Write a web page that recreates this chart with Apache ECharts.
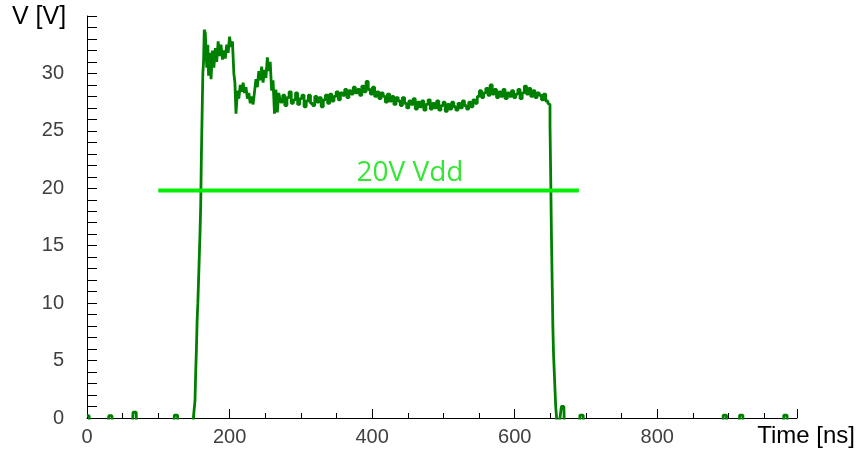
<!DOCTYPE html>
<html>
<head>
<meta charset="utf-8">
<script src="https://cdn.jsdelivr.net/npm/echarts@6/dist/echarts.min.js"></script>
<style>
  html, body { margin: 0; padding: 0; background: #fff; }
  #chart { width: 859px; height: 452px; }
</style>
</head>
<body>
<div id="chart"></div>
<script>
// measured pulse, [time ns, voltage V], read off the picture
// (baseline sits just under 0 so only the small noise blips show above the axis)
const baselineBefore = [
  [0, 0.2], [3, 0.2], [4, -0.5],
  [30, -0.5], [31, 0.2], [35, 0.2], [36, -0.5],
  [64, -0.5], [65, 0.5], [69, 0.5], [70, -0.5],
  [122, -0.5], [123, 0.25], [127, 0.25], [128, -0.5],
  [149, -0.5], [150, 0.2]
];
const risingEdge = [
  [151, 0.3], [152, 1.5], [153, 4], [154, 6], [155, 8.5], [156, 10], [157, 12],
  [158, 14], [159, 16], [160, 18.5], [161, 23], [162, 26.5], [163, 30], [164, 31]
];
const overshoot = [
  [165, 33.8], [167, 33.5], [169, 30.5], [170, 32.5], [171, 29.8], [173, 31.8],
  [175, 29.5], [177, 32], [179, 30.5], [181, 32.2], [183, 31], [185, 32.8],
  [187, 31.5], [189, 32.5], [191, 31.2], [193, 32], [195, 31.3], [197, 32.5],
  [199, 31.8], [201, 33.2], [203, 32.3], [205, 32.8], [207, 30], [208, 29.2],
  [210, 26.5], [212, 28.5], [214, 27.8], [216, 29], [218, 28.4], [220, 29.2],
  [222, 28.3], [224, 28.8], [226, 27.8], [228, 28.3], [230, 27.4], [232, 28],
  [234, 27.3], [236, 28.4], [238, 29.5], [240, 28.8], [242, 30.2], [244, 29.4],
  [246, 30.6], [248, 29.2], [250, 30.3], [252, 29.6], [254, 31.4], [256, 30.2],
  [258, 31], [260, 28.5], [262, 29.4], [264, 26.5], [266, 28.6], [268, 26.6]
];
const plateau = [
  [270, 28.3], [273, 27.5], [276, 28.1], [279, 27.2], [282, 27.9], [285, 28.4],
  [288, 27.4], [291, 27.7], [294, 28.3], [297, 27.3], [300, 27.8], [303, 28.1],
  [306, 27.1], [309, 27.6], [312, 28.1], [315, 27.4], [318, 27.2], [321, 28.0],
  [324, 27.5], [327, 27.9], [330, 27.1], [333, 27.7], [336, 28.1], [339, 27.4],
  [342, 28.2], [345, 27.6], [348, 28.0], [351, 28.4], [354, 27.7], [357, 28.3],
  [360, 28.1], [363, 28.6], [366, 27.9], [369, 28.5], [372, 28.2], [375, 28.8],
  [378, 28.3], [381, 28.6], [384, 28.1], [387, 28.9], [390, 28.4], [393, 29.3],
  [396, 28.6], [399, 28.2], [402, 28.8], [405, 28.0], [408, 28.4], [411, 27.8],
  [414, 28.3], [417, 28.0], [420, 27.5], [423, 28.2], [426, 27.6], [429, 28.0],
  [432, 27.3], [435, 27.9], [438, 27.6], [441, 27.2], [444, 27.9], [447, 27.4],
  [450, 27.0], [453, 27.6], [456, 27.3], [459, 27.8], [462, 26.9], [465, 27.5],
  [468, 27.1], [471, 27.6], [474, 26.8], [477, 27.3], [480, 27.7], [483, 26.9],
  [486, 27.4], [489, 27.0], [492, 27.6], [495, 26.8], [498, 27.2], [501, 27.5],
  [504, 26.7], [507, 27.3], [510, 26.9], [513, 27.5], [516, 27.1], [519, 26.8],
  [522, 27.4], [525, 27.0], [528, 27.6], [531, 27.2], [534, 26.9], [537, 27.5],
  [540, 27.1], [543, 27.7], [546, 27.4], [549, 28.0], [552, 28.5], [555, 27.9],
  [558, 28.3], [561, 28.7], [564, 28.1], [567, 29.0], [570, 28.2], [573, 28.6],
  [576, 27.9], [579, 28.4], [582, 28.0], [585, 28.6], [588, 27.8], [591, 28.3],
  [594, 28.0], [597, 28.5], [600, 27.9], [603, 28.2], [606, 28.6], [609, 27.8],
  [612, 28.3], [615, 28.9], [618, 28.2], [621, 28.7], [624, 28.0], [627, 28.5],
  [630, 27.9], [633, 28.3], [636, 28.1], [639, 27.7], [642, 28.2], [645, 27.6],
  [648, 27.4]
];
const fallingEdge = [
  [649, 27.3], [650, 25.5], [651, 21], [652, 16], [653, 12], [654, 8],
  [655, 5.5], [656, 4], [657, 2.5], [658, 1], [659, 0.2], [660, -0.5]
];
const baselineAfter = [
  [665, -0.5], [666, 1.0], [669, 1.0], [670, -0.5],
  [691, -0.5], [692, 0.25], [696, 0.25], [697, -0.5],
  [892, -0.5], [893, 0.25], [897, 0.25], [898, -0.5],
  [915, -0.5], [916, 0.25], [920, 0.25], [921, -0.5],
  [977, -0.5], [978, 0.25], [982, 0.25], [983, -0.5],
  [996, -0.5]
];

// supply level line
const vddLine = [[100, 19.8], [690, 19.8]];
const vddLabel = "20V Vdd";
const vddLabelAt = [453, 21.3];

const xTicks = { min: 0, max: 996, step: 200 };
const yTicks = { min: 0, max: 35, step: 5 };

let myChart = echarts.init(document.getElementById("chart"));

let _signal = [].concat(
  baselineBefore, risingEdge, overshoot, plateau, fallingEdge, baselineAfter
);

let axisFont = "'Liberation Sans', Arial, sans-serif";

let option = {
  backgroundColor: "#fff",
  animation: false,
  grid: {
    left: 87,
    right: 62,
    top: 16,
    bottom: 34
  },
  graphic: [
    {
      type: "text",
      left: 12,
      top: 5,
      style: {
        text: "V [V]",
        font: "25px " + axisFont,
        fill: "#000"
      }
    },
    {
      type: "text",
      right: 4,
      top: 424,
      style: {
        text: "Time [ns]",
        font: "24px " + axisFont,
        fill: "#000"
      }
    }
  ],
  xAxis: {
    type: "value",
    min: xTicks.min,
    max: xTicks.max,
    interval: xTicks.step,
    axisLine: { show: true, lineStyle: { color: "#000", width: 1 } },
    axisTick: { show: true, inside: true, length: 9, lineStyle: { color: "#000" } },
    minorTick: { show: true, splitNumber: 4, length: 5, lineStyle: { color: "#000" } },
    splitLine: { show: false },
    axisLabel: {
      color: "#404040",
      fontSize: 20,
      fontFamily: axisFont,
      margin: 9,
      showMaxLabel: false
    }
  },
  yAxis: {
    type: "value",
    min: yTicks.min,
    max: yTicks.max,
    interval: yTicks.step,
    axisLine: { show: true, lineStyle: { color: "#000", width: 1 } },
    axisTick: { show: true, inside: true, length: 10, lineStyle: { color: "#000" } },
    minorTick: { show: true, splitNumber: 5, length: 10, lineStyle: { color: "#000" } },
    splitLine: { show: false },
    axisLabel: {
      color: "#404040",
      fontSize: 20,
      fontFamily: axisFont,
      margin: 23,
      showMaxLabel: false
    }
  },
  series: [
    {
      name: "signal",
      type: "line",
      data: _signal,
      step: "middle",
      symbol: "none",
      clip: true,
      lineStyle: { color: "#008000", width: 2.8 },
      z: 3
    },
    {
      name: "Vdd",
      type: "line",
      data: vddLine,
      symbol: "none",
      lineStyle: { color: "#00ee00", width: 4 },
      z: 4
    },
    {
      name: "Vdd label",
      type: "scatter",
      data: [vddLabelAt],
      symbolSize: 0,
      label: {
        show: true,
        position: "inside",
        formatter: vddLabel,
        color: "#00e000",
        fontSize: 28,
        fontFamily: "'Open Sans', 'Noto Sans', sans-serif"
      },
      z: 5
    }
  ]
};
myChart.setOption(option);
</script>
</body>
</html>
